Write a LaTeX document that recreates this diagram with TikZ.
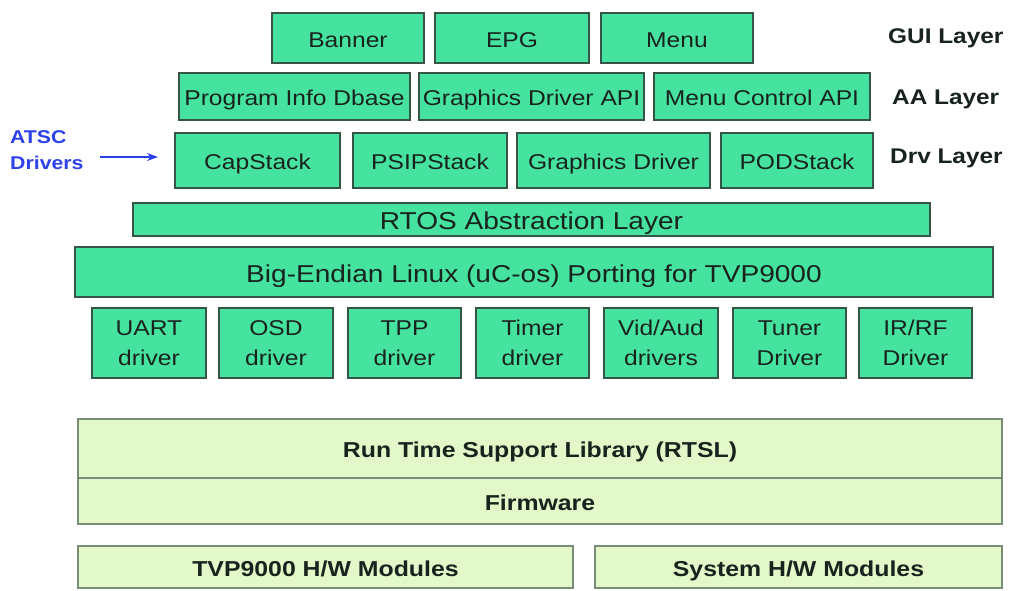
\documentclass[tikz,border=0pt]{standalone}
\usepackage{fontspec}
\setmainfont{Liberation Sans}[FakeStretch=1.15]
\usetikzlibrary{arrows.meta}
\definecolor{gfill}{RGB}{70,226,160}
\definecolor{gline}{RGB}{55,85,70}
\definecolor{lfill}{RGB}{226,248,201}
\definecolor{lline}{RGB}{120,140,120}
\definecolor{txt}{RGB}{25,35,30}
\definecolor{atsc}{RGB}{45,65,235}
\tikzset{
  gbase/.style={draw=gline, fill=gfill, line width=1.2pt, inner sep=0pt, outer sep=0pt,
    anchor=north west, text=txt},
  gbox/.style={gbase, font=\fontsize{21.4}{29}\selectfont, text height=18pt, text depth=0pt},
  gwide/.style={gbase, font=\fontsize{24.4}{29}\selectfont, text height=20.5pt, text depth=0pt},
  gtwo/.style={gbase, font=\fontsize{21.4}{30}\selectfont, align=center},
  lbox/.style={draw=lline, fill=lfill, line width=1.2pt, inner sep=0pt, outer sep=0pt,
    anchor=north west, text=txt, font=\bfseries\fontsize{21.6}{24}\selectfont,
    text height=18.5pt, text depth=0pt},
  layerlbl/.style={anchor=west, text=txt, font=\bfseries\fontsize{21.2}{24}\selectfont,
    inner sep=0pt, text height=15.2pt, text depth=0pt},
  atsclbl/.style={anchor=west, text=atsc, font=\bfseries\fontsize{18.5}{26}\selectfont, align=left, inner sep=0pt},
  atscarrow/.style={draw=atsc, line width=1.5pt, -{Stealth[length=11pt,width=8pt]}}
}
\begin{document}
\begin{tikzpicture}[x=1pt,y=-1pt]
\useasboundingbox (0,0) rectangle (1010,590);
\fill[white] (0,0) rectangle (1010,590);
% GUI layer
\node[gbox, minimum width=152pt, minimum height=50pt] (banner) at (272,13) {Banner};
\node[gbox, minimum width=154pt, minimum height=50pt] (epg) at (435,13) {EPG};
\node[gbox, minimum width=152pt, minimum height=50pt] (menu) at (601,13) {Menu};
% AA layer
\node[gbox, minimum width=231pt, minimum height=47pt] (pidb) at (179,73) {Program Info Dbase};
\node[gbox, minimum width=225pt, minimum height=47pt] (gapi) at (419,73) {Graphics Driver API};
\node[gbox, minimum width=216pt, minimum height=47pt] (mapi) at (654,73) {Menu Control API};
% Drv layer
\node[gbox, minimum width=165pt, minimum height=55pt] (cap) at (175,133) {CapStack};
\node[gbox, minimum width=154pt, minimum height=55pt] (psip) at (353,133) {PSIPStack};
\node[gbox, minimum width=193pt, minimum height=55pt] (gdrv) at (517,133) {Graphics Driver};
\node[gbox, minimum width=152pt, minimum height=55pt] (pod) at (721,133) {PODStack};
% labels
\node[layerlbl] (gui) at (888,36) {GUI Layer};
\node[layerlbl] (aa) at (892,97) {AA Layer};
\node[layerlbl] (drv) at (890,156) {Drv Layer};
\node[atsclbl] (atscd) at (10,150) {ATSC\\Drivers};
\coordinate (atscstart) at (100,157);
\coordinate (atscend) at (158,157);
\draw[atscarrow] (atscstart) -- (atscend);
% RTOS and Linux
\node[gwide, minimum width=797pt, minimum height=33pt] (rtos) at (133,203) {RTOS Abstraction Layer};
\node[gwide, minimum width=918pt, minimum height=50pt] (linux) at (75,247) {Big-Endian Linux (uC-os) Porting for TVP9000};
% drivers
\node[gtwo, minimum width=114pt, minimum height=70pt] (uart) at (92,308) {UART\\driver};
\node[gtwo, minimum width=114pt, minimum height=70pt] (osd) at (219,308) {OSD\\driver};
\node[gtwo, minimum width=113pt, minimum height=70pt] (tpp) at (348,308) {TPP\\driver};
\node[gtwo, minimum width=113pt, minimum height=70pt] (timer) at (476,308) {Timer\\driver};
\node[gtwo, minimum width=114pt, minimum height=70pt] (vid) at (604,308) {Vid/Aud\\drivers};
\node[gtwo, minimum width=113pt, minimum height=70pt] (tuner) at (733,308) {Tuner\\Driver};
\node[gtwo, minimum width=113pt, minimum height=70pt] (irrf) at (859,308) {IR/RF\\Driver};
% bottom
\node[lbox, minimum width=924pt, minimum height=59pt] (rtsl) at (78,419) {Run Time Support Library (RTSL)};
\node[lbox, minimum width=924pt, minimum height=46pt] (fw) at (78,478) {Firmware};
\node[lbox, minimum width=495pt, minimum height=42pt] (tvphw) at (78,546) {TVP9000 H/W Modules};
\node[lbox, minimum width=407pt, minimum height=42pt] (syshw) at (595,546) {System H/W Modules};
\end{tikzpicture}
\end{document}
